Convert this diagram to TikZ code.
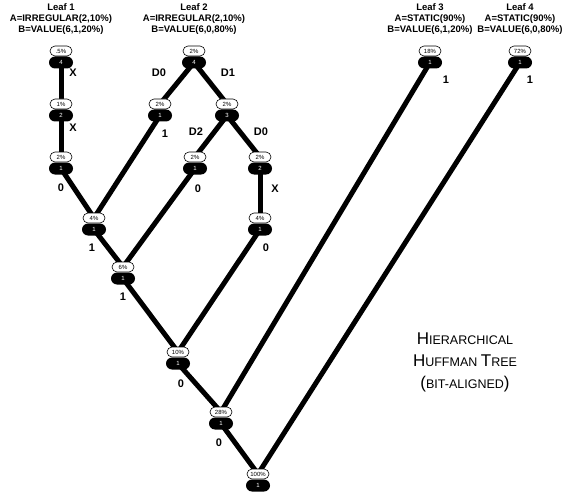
\documentclass[tikz,border=0pt]{standalone}
\usepackage{fontspec}
\setmainfont{Liberation Sans}
\usetikzlibrary{positioning,backgrounds}

\newcommand{\smcap}[2]{{\fontsize{17}{17}\selectfont #1}{\fontsize{12.5}{12.5}\selectfont #2}}

\tikzset{
	pct/.style = {draw, fill=white, line width=0.6pt, rounded corners=5pt, minimum width=22pt, minimum height=10pt, inner sep=0pt, font=\fontsize{6}{6}\selectfont},
	cnt/.style = {fill=black, text=white, rounded corners=6pt, minimum width=24pt, minimum height=12pt, inner sep=0pt, font=\fontsize{6}{6}\selectfont},
	branch/.style = {line width=5pt},
	lbl/.style = {font=\fontsize{11}{11}\selectfont\bfseries, inner sep=0pt},
	hdr/.style = {align=center, font=\fontsize{9.5}{11}\selectfont\bfseries, inner sep=0pt, anchor=north}
}

\begin{document}
\begin{tikzpicture}[x=1pt, y=-1pt]
	\useasboundingbox (0,0) rectangle (571,495);
	% leaf headers
	\node[hdr] (h1) at (61,3) {Leaf 1\\A=IRREGULAR(2,10\%)\\B=VALUE(6,1,20\%)};
	\node[hdr] (h2) at (194,3) {Leaf 2\\A=IRREGULAR(2,10\%)\\B=VALUE(6,0,80\%)};
	\node[hdr] (h3) at (430,3) {Leaf 3\\A=STATIC(90\%)\\B=VALUE(6,1,20\%)};
	\node[hdr] (h4) at (520,3) {Leaf 4\\A=STATIC(90\%)\\B=VALUE(6,0,80\%)};
	% tree nodes
	\foreach \n/\x/\y/\p/\c in {l1a/61/51/.5\%/4, l1b/61/104/1\%/2, l1c/61/157/2\%/1,
		l2a/194/51/2\%/4, l2b/160/104/2\%/1, l2c/227/104/2\%/3, l2d/195/157/2\%/1, l2e/260/157/2\%/2, l2f/260/218/4\%/1,
		n4/94/218/4\%/1, n6/123/267/6\%/1, n10/178/352/10\%/1, n28/221/412/28\%/1, n100/258/474/100\%/1,
		l3/430/51/18\%/1, l4/520/51/72\%/1}
	{
		\node[pct] (\n p) at (\x,\y) {\p};
		\node[cnt, below=0pt of \n p] (\n) {\c};
	}
	% branches
	\begin{pgfonlayer}{background}
		\foreach \a/\b in {l1a/l1bp, l1b/l1cp, l1c/n4p, l2b/n4p, n4/n6p, l2d/n6p, n6/n10p, l2f/n10p, n10/n28p, l3/n28p, n28/n100p, l4/n100p,
			l2a/l2bp, l2a/l2cp, l2c/l2dp, l2c/l2ep, l2e/l2fp}
		\draw[branch] (\a.center) -- (\b.center);
	\end{pgfonlayer}
	% branch labels
	\foreach \t/\x/\y in {X/73/73, X/73/128, 0/61/188, 1/165/134, D0/159/73, D1/228/73, D2/196/132, D0/261/132,
		0/198/189, X/275/189, 1/92/248, 0/266/248, 1/123/297, 0/181/384, 0/219/443, 1/446/80, 1/530/80}
	\node[lbl] at (\x,\y) {\t};
	% title
	\node[align=center, font=\fontsize{12.5}{22}\selectfont] (title) at (465,362) {\smcap{H}{IERARCHICAL}\\\smcap{H}{UFFMAN} \smcap{T}{REE}\\\smcap{(}{BIT-ALIGNED}\smcap{)}{}};
\end{tikzpicture}
\end{document}
